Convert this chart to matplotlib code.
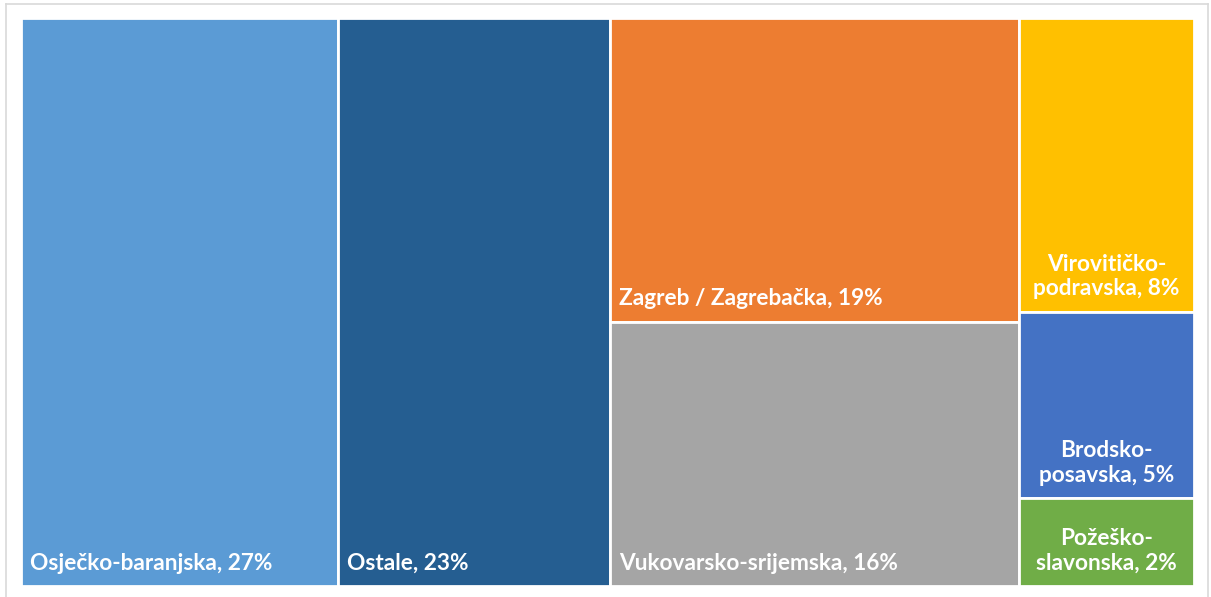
import matplotlib.pyplot as plt
from matplotlib.patches import Rectangle

# share of each county (percent)
names = ["Osječko-baranjska", "Ostale", "Zagreb / Zagrebačka", "Vukovarsko-srijemska",
         "Virovitičko-podravska", "Brodsko-posavska", "Požeško-slavonska"]
labels = ["Osječko-baranjska", "Ostale", "Zagreb / Zagrebačka", "Vukovarsko-srijemska",
          "Virovitičko-\npodravska", "Brodsko-\nposavska", "Požeško-\nslavonska"]
shares = [27.0, 23.1, 18.6, 16.2, 7.7, 4.9, 2.3]
shown = [27, 23, 19, 16, 8, 5, 2]
colors = ["#5B9BD5", "#255E91", "#ED7D31", "#A5A5A5", "#FFC000", "#4472C4", "#70AD47"]

# columns of the treemap (indices into the lists above)
columns = [[0], [1], [2, 3], [4, 5, 6]]

fig = plt.figure(figsize=(12.11, 5.97), dpi=100)
# light frame around the chart
frame = fig.add_axes([6 / 1211, 0, 1202 / 1211, 593 / 597])
frame.set_xticks([])
frame.set_yticks([])
for s in frame.spines.values():
    s.set_color("#D9D9D9")
    s.set_linewidth(1.2)
frame.spines["bottom"].set_visible(False)

ax = fig.add_axes([21 / 1211, 11 / 597, 1173 / 1211, 568 / 597])
total = sum(shares)
ax.set_xlim(0, total)
ax.set_ylim(0, 1)
ax.axis("off")

fs = 16.3
x = 0
for col in columns:
    w = sum(shares[i] for i in col)
    top = 1.0
    for i in col:
        h = shares[i] / w
        y = top - h
        ax.add_patch(Rectangle((x, y), w, h, facecolor=colors[i],
                               edgecolor="white", linewidth=2))
        txt = "%s, %d%%" % (labels[i], shown[i])
        if len(col) == 3:
            ax.text(x + w / 2, y + 0.022, txt, ha="center", va="bottom",
                    color="white", fontsize=fs, fontweight="bold",
                    family="Lato", linespacing=1.2)
        else:
            ax.text(x + 0.75, y + 0.022, txt, ha="left", va="bottom",
                    color="white", fontsize=fs, fontweight="bold", family="Lato")
        top = y
    x += w

fig.savefig("out.png", dpi=100)
